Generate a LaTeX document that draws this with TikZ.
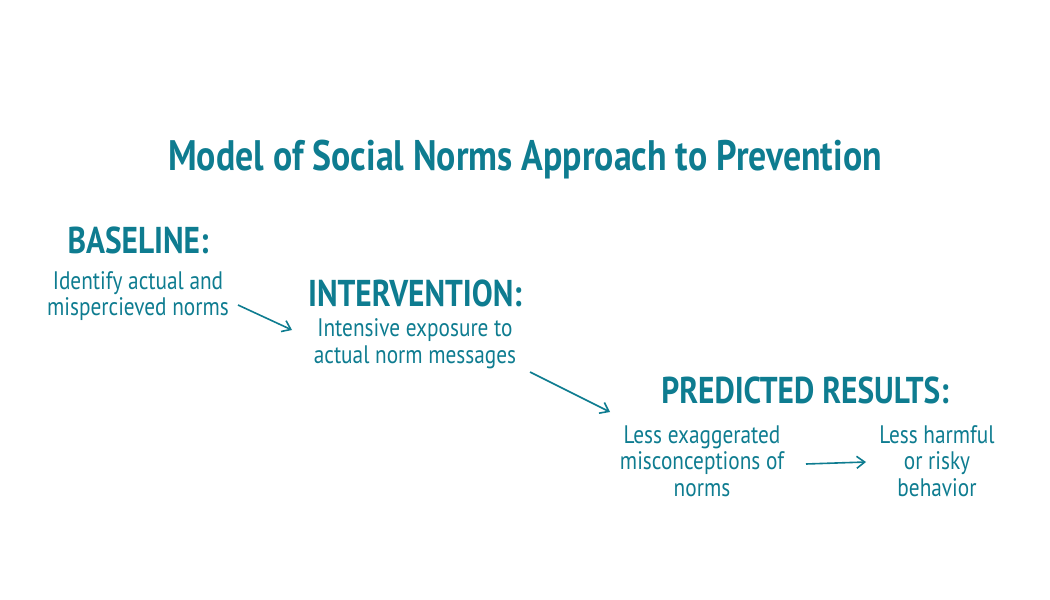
\documentclass[tikz,border=0pt]{standalone}
\usepackage{fontspec}
\setmainfont{PT Sans}[FakeStretch=0.84]
\usetikzlibrary{arrows.meta}
\definecolor{teal}{HTML}{0E7C90}
\tikzset{
  head/.style={text=teal, font=\fontsize{28}{30}\selectfont\bfseries, inner sep=0pt},
  body/.style={text=teal, font=\fontsize{19}{20}\selectfont, align=center, inner sep=0pt},
  link/.style={draw=teal, line width=1.2pt, -{Straight Barb[length=6pt,width=9pt]}}
}
\begin{document}
\begin{tikzpicture}[x=0.75pt,y=-0.75pt]
\useasboundingbox (0,0) rectangle (1050,600);

% Title
\node[head, font=\fontsize{32}{34}\selectfont\bfseries] (title) at (525,160) {Model of Social Norms Approach to Prevention};

% Baseline
\node[head] (baseline) at (138,240) {BASELINE:};
\node[body] (identify) at (138,296) {Identify actual and\\mispercieved norms};

% Intervention
\node[head] (intervention) at (415,293) {INTERVENTION:};
\node[body] (exposure) at (415,344) {Intensive exposure to\\actual norm messages};

% Results
\node[head] (results) at (805,390) {PREDICTED RESULTS:};
\node[body] (misconceptions) at (702,461) {Less exaggerated\\misconceptions of\\norms};
\node[body] (behavior) at (937,461) {Less harmful\\or risky\\behavior};

% Arrows
\coordinate (a1) at (238,305); \coordinate (b1) at (292,330);
\coordinate (a2) at (530,372); \coordinate (b2) at (610,412);
\coordinate (a3) at (806,464); \coordinate (b3) at (866,462);
\draw[link] (a1) -- (b1);
\draw[link] (a2) -- (b2);
\draw[link] (a3) -- (b3);
\end{tikzpicture}
\end{document}
